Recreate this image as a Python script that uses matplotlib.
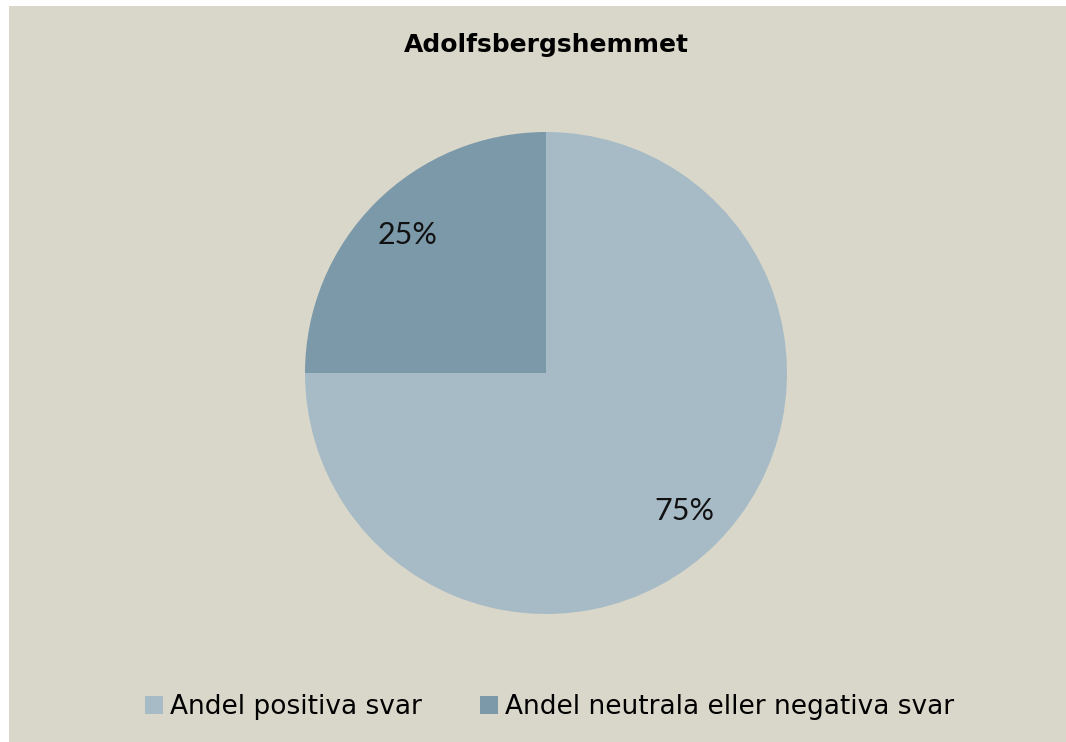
import matplotlib
matplotlib.use("Agg")
import matplotlib.pyplot as plt
from matplotlib.patches import Rectangle

TITLE = "Adolfsbergshemmet"
CATEGORIES = ["Andel positiva svar", "Andel neutrala eller negativa svar"]
SHARES = [75, 25]
COLORS = ["#A7BBC6", "#7C99AA"]
BG = "#D9D7CA"

W, H = 1066, 742
plt.rcParams["font.family"] = ["DejaVu Sans"]

fig = plt.figure(figsize=(W / 100, H / 100), dpi=100, facecolor="white")
fig.patches.append(Rectangle((9 / W, 0), 1 - 9 / W, 1 - 6 / H,
                             transform=fig.transFigure, facecolor=BG,
                             edgecolor="none", zorder=-10))

cx, cy, r = 546, 373, 241
ax = fig.add_axes([(cx - r) / W, (H - cy - r) / H, 2 * r / W, 2 * r / H])
ax.set_facecolor("none")
wedges, texts, autotexts = ax.pie(
    SHARES, colors=COLORS, startangle=90, counterclock=False, radius=1,
    autopct="%d%%", pctdistance=0.81,
    textprops={"fontsize": 22, "color": "#111111", "family": ["Lato", "DejaVu Sans"]},
)
ax.set_xlim(-1, 1)
ax.set_ylim(-1, 1)
ax.set_aspect("equal")
ax.axis("off")

fig.text(546 / W, 1 - 45 / H, TITLE, ha="center", va="center",
         fontsize=18, fontweight="bold")

leg = fig.legend(wedges, CATEGORIES, loc="center", bbox_to_anchor=(550 / W, 1 - 707 / H),
                 ncol=2, frameon=False, fontsize=19, handlelength=0.65,
                 handleheight=0.65, handletextpad=0.3, columnspacing=2.2)

fig.savefig("out.png", dpi=100, facecolor=fig.get_facecolor())
